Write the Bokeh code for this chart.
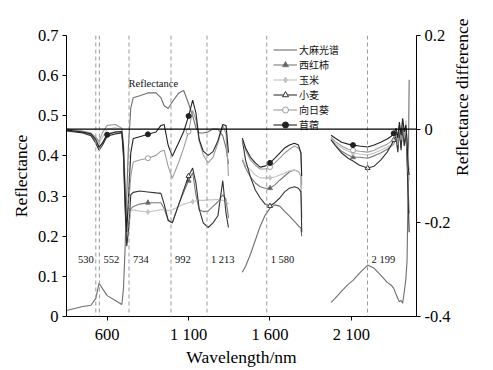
import numpy as np
from bokeh.plotting import figure
from bokeh.models import Range1d, LinearAxis, FixedTicker, Span, Legend, LegendItem, ColumnDataSource
from bokeh.embed import file_html
from bokeh.resources import INLINE
from bokeh.core.properties import value

# ---------------- data ----------------
# three wavelength segments (water absorption bands removed)
W1 = [350, 400, 450, 500, 530, 550, 570, 600, 650, 690, 700, 710, 720, 730, 745, 760, 800, 850, 900, 930,
      950, 975, 1000, 1040, 1070, 1100, 1125, 1145, 1165, 1190, 1220, 1250, 1280, 1310, 1330, 1345]
W2 = [1430, 1450, 1480, 1510, 1540, 1570, 1600, 1630, 1660, 1690, 1720, 1750, 1775, 1790, 1795]
W3 = [1975, 2000, 2040, 2080, 2110, 2150, 2200, 2240, 2280, 2320, 2345, 2360, 2375, 2385, 2395, 2405,
      2415, 2425, 2435, 2442, 2448, 2455]

# hemp reflectance (left axis)
HEMP_1 = [0.015, 0.02, 0.025, 0.028, 0.045, 0.083, 0.07, 0.052, 0.04, 0.03, 0.07, 0.17, 0.30, 0.42, 0.52, 0.545,
          0.55, 0.557, 0.557, 0.545, 0.525, 0.518, 0.535, 0.557, 0.563, 0.53, 0.50, 0.47, 0.457, 0.457,
          0.46, 0.467, 0.467, 0.45, 0.42, 0.38]
HEMP_2 = [0.11, 0.125, 0.155, 0.19, 0.225, 0.252, 0.27, 0.278, 0.275, 0.262, 0.25, 0.237, 0.226, 0.22, 0.20]
HEMP_3 = [0.035, 0.045, 0.063, 0.08, 0.09, 0.108, 0.128, 0.12, 0.103, 0.085, 0.078, 0.07, 0.055, 0.045,
          0.037, 0.04, 0.033, 0.062, 0.095, 0.14, 0.30, 0.59]

# reflectance differences (right axis)
TOMATO_1 = [-0.003, -0.005, -0.007, -0.012, -0.026, -0.04, -0.03, -0.01, -0.006, -0.006, -0.05, -0.16, -0.24,
            -0.22, -0.17, -0.165, -0.16, -0.157, -0.157, -0.157, -0.17, -0.195, -0.2, -0.16, -0.135, -0.11,
            -0.093, -0.14, -0.172, -0.176, -0.175, -0.165, -0.155, -0.14, -0.15, -0.19]
TOMATO_2 = [-0.066, -0.083, -0.102, -0.115, -0.123, -0.126, -0.126, -0.119, -0.109, -0.100, -0.091, -0.087,
            -0.091, -0.100, -0.19]
TOMATO_3 = [-0.021, -0.034, -0.047, -0.055, -0.060, -0.060, -0.062, -0.057, -0.051, -0.043, -0.036, -0.032,
            -0.019, -0.045, -0.002, -0.040, 0.002, -0.034, -0.013, -0.055, -0.119, -0.18]

MAIZE_1 = [-0.001, -0.003, -0.005, -0.01, -0.02, -0.03, -0.018, 0.0, 0.003, 0.0, -0.05, -0.16, -0.24, -0.21,
           -0.175, -0.172, -0.175, -0.177, -0.174, -0.172, -0.172, -0.174, -0.172, -0.165, -0.16, -0.157,
           -0.155, -0.153, -0.152, -0.152, -0.151, -0.151, -0.15, -0.152, -0.155, -0.16]
MAIZE_2 = [-0.062, -0.077, -0.087, -0.098, -0.104, -0.104, -0.104, -0.102, -0.098, -0.094, -0.089, -0.087,
           -0.091, -0.098, -0.15]
MAIZE_3 = [-0.019, -0.030, -0.040, -0.047, -0.051, -0.053, -0.055, -0.051, -0.045, -0.038, -0.034, -0.028,
           -0.013, -0.040, 0.002, -0.034, 0.009, -0.023, 0.019, -0.03, -0.045, -0.087]

WHEAT_1 = [-0.004, -0.006, -0.008, -0.014, -0.03, -0.045, -0.035, -0.015, -0.01, -0.008, -0.06, -0.17, -0.25,
           -0.22, -0.14, -0.135, -0.132, -0.134, -0.136, -0.137, -0.16, -0.195, -0.2, -0.16, -0.13, -0.1,
           -0.083, -0.115, -0.17, -0.2, -0.21, -0.2, -0.185, -0.11, -0.18, -0.21]
WHEAT_2 = [-0.023, -0.066, -0.102, -0.130, -0.147, -0.160, -0.164, -0.157, -0.147, -0.134, -0.126, -0.123,
           -0.126, -0.134, -0.22]
WHEAT_3 = [-0.023, -0.034, -0.051, -0.062, -0.068, -0.077, -0.083, -0.079, -0.066, -0.049, -0.034, -0.023,
           -0.015, -0.049, 0.002, -0.045, 0.006, -0.036, -0.006, -0.066, -0.140, -0.22]

SUNFLOWER_1 = [0.0, -0.002, -0.004, -0.008, -0.017, -0.026, -0.008, 0.008, 0.01, 0.002, -0.03, -0.11, -0.2,
               -0.17, -0.1, -0.07, -0.066, -0.062, -0.056, -0.047, -0.045, -0.08, -0.105, -0.07, -0.04,
               -0.005, 0.04, 0.02, -0.025, -0.055, -0.072, -0.06, -0.03, 0.008, -0.01, -0.1]
SUNFLOWER_2 = [-0.023, -0.045, -0.066, -0.077, -0.085, -0.085, -0.081, -0.072, -0.062, -0.051, -0.043, -0.036,
               -0.040, -0.049, -0.12]
SUNFLOWER_3 = [-0.017, -0.026, -0.036, -0.043, -0.045, -0.047, -0.049, -0.045, -0.038, -0.032, -0.026, -0.019,
               -0.006, -0.034, 0.009, -0.023, 0.019, -0.019, 0.002, -0.045, -0.087, -0.109]

ALFALFA_1 = [-0.002, -0.004, -0.006, -0.01, -0.022, -0.038, -0.03, -0.012, -0.006, -0.005, -0.04, -0.14,
             -0.22, -0.15, -0.05, -0.02, -0.016, -0.011, -0.006, 0.008, 0.01, -0.035, -0.058, -0.028, -0.005,
             0.028, 0.062, 0.035, -0.022, -0.047, -0.056, -0.048, -0.025, 0.01, 0.008, -0.05]
ALFALFA_2 = [-0.019, -0.040, -0.060, -0.072, -0.081, -0.079, -0.072, -0.062, -0.051, -0.040, -0.034, -0.030,
             -0.034, -0.051, -0.10]
ALFALFA_3 = [-0.013, -0.019, -0.028, -0.032, -0.034, -0.036, -0.038, -0.034, -0.028, -0.021, -0.015, -0.009,
             0.002, -0.019, 0.015, -0.013, 0.023, -0.006, 0.009, -0.023, -0.077, -0.098]

NAMES = ["大麻光谱", "西红柿", "玉米", "小麦", "向日葵", "苜蓿"]
MARK_WL = {"西红柿": [850, 1100, 1600, 2110], "玉米": [850, 1125, 1600, 2110],
           "小麦": [1100, 1600, 2200, 2360], "向日葵": [850, 1100, 1600, 2110],
           "苜蓿": [600, 850, 1100, 1600, 2110, 2360]}

REF_LINES = [530, 552, 734, 992, 1213, 1580, 2199]
REF_LABELS = ["530", "552", "734", "992", "1 213", "1 580", "2 199"]
INNER_LABEL = "Reflectance"
RIGHT_TITLE = "Reflectance difference"

X_TICKS = [600, 1100, 1600, 2100]
X_LABELS = ["600", "1 100", "1 600", "2 100"]
Y_TICKS = [0, 0.1, 0.2, 0.3, 0.4, 0.5, 0.6, 0.7]
Y2_TICKS = [-0.4, -0.2, 0, 0.2]

# ---------------- figure ----------------
SERIF = value("Liberation Serif")
nan = float("nan")


def join(a, b, c):
    return list(a) + [nan] + list(b) + [nan] + list(c)


WL = join(W1, W2, W3)

p = figure(width=493, height=370, output_backend="svg", toolbar_location=None,
           x_range=Range1d(350, 2500), y_range=Range1d(0, 0.7),
           min_border_left=66, min_border_right=77, min_border_top=35, min_border_bottom=54)
p.extra_y_ranges = {"diff": Range1d(-0.4, 0.2)}
p.outline_line_color = None
p.xgrid.visible = False
p.ygrid.visible = False
p.background_fill_color = "white"

# reference dashed lines
for wl in REF_LINES:
    p.add_layout(Span(location=wl, dimension="height", line_color="#9a9a9a", line_dash="4 3", line_width=1))

# zero line of the difference axis
p.add_layout(Span(location=0, dimension="width", y_range_name="diff", line_color="black", line_width=1.3))

styles = {
    "西红柿": dict(color="#7a7a7a", marker="triangle", fill="#606060", data=(TOMATO_1, TOMATO_2, TOMATO_3)),
    "玉米": dict(color="#c4c4c4", marker="diamond", fill="#c4c4c4", data=(MAIZE_1, MAIZE_2, MAIZE_3)),
    "小麦": dict(color="#333333", marker="triangle", fill="white", data=(WHEAT_1, WHEAT_2, WHEAT_3)),
    "向日葵": dict(color="#9c9c9c", marker="circle", fill="white", data=(SUNFLOWER_1, SUNFLOWER_2, SUNFLOWER_3)),
    "苜蓿": dict(color="#222222", marker="circle", fill="#222222", data=(ALFALFA_1, ALFALFA_2, ALFALFA_3)),
}

items = []
hemp = p.line(WL, join(HEMP_1, HEMP_2, HEMP_3), line_color="#6e6e6e", line_width=1.1)
items.append(LegendItem(label=NAMES[0], renderers=[hemp]))

for name in NAMES[1:]:
    st = styles[name]
    vals = join(*st["data"])
    r = p.line(WL, vals, line_color=st["color"], line_width=1.1, y_range_name="diff")
    mx = [w for w in MARK_WL[name]]
    my = [vals[WL.index(w)] for w in mx]
    m = p.scatter(mx, my, marker=st["marker"], size=5, line_color=st["color"], fill_color=st["fill"],
                  line_width=1, y_range_name="diff")
    items.append(LegendItem(label=name, renderers=[r, m]))

# reference-line labels
lab_src_l = ColumnDataSource(dict(x=REF_LINES[1:], y=[0.1425] * (len(REF_LINES) - 1), t=REF_LABELS[1:]))
p.text(x="x", y="y", text="t", source=lab_src_l, text_font=SERIF, text_font_size="10.5px",
       text_align="left", text_baseline="middle", x_offset=4, text_color="#111111")
lab_src_r = ColumnDataSource(dict(x=REF_LINES[:1], y=[0.1425], t=REF_LABELS[:1]))
p.text(x="x", y="y", text="t", source=lab_src_r, text_font=SERIF, text_font_size="10.5px",
       text_align="right", text_baseline="middle", x_offset=-2, text_color="#111111")
p.text(x=[731], y=[0.58], text=[INNER_LABEL], text_font=SERIF, text_font_size="10.5px",
       text_align="left", text_baseline="middle", text_color="#111111")

# axes
def style_axis(ax):
    ax.axis_line_color = "black"
    ax.major_tick_line_color = "black"
    ax.major_tick_in = 0
    ax.major_tick_out = 4
    ax.minor_tick_line_color = None
    ax.major_label_text_font = "Liberation Serif"
    ax.major_label_text_font_size = "16.5px"
    ax.major_label_text_color = "black"
    ax.axis_label_text_font = "Liberation Serif"
    ax.axis_label_text_font_size = "17.5px"
    ax.axis_label_text_font_style = "normal"
    ax.axis_label_text_color = "black"
    ax.major_label_standoff = 4
    ax.axis_label_standoff = 4


xa = p.xaxis[0]
xa.ticker = FixedTicker(ticks=X_TICKS)
xa.major_label_overrides = {t: l for t, l in zip(X_TICKS, X_LABELS)}
xa.axis_label = "Wavelength/nm"
style_axis(xa)
xa.axis_label_standoff = 0

ya = p.yaxis[0]
ya.ticker = FixedTicker(ticks=Y_TICKS)
ya.major_label_overrides = {t: ("0" if t == 0 else f"{t:.1f}") for t in Y_TICKS}
ya.axis_label = "Reflectance"
style_axis(ya)

ya2 = LinearAxis(y_range_name="diff", ticker=FixedTicker(ticks=Y2_TICKS))
ya2.major_label_overrides = {t: ("0" if t == 0 else f"{t:.1f}") for t in Y2_TICKS}
style_axis(ya2)
ya2.axis_label = RIGHT_TITLE
ya2.axis_label_standoff = 8
if "axis_label_orientation" in ya2.properties():
    # read bottom-to-top, as in the reference
    ya2.axis_label_orientation = np.pi / 2
p.add_layout(ya2, "right")

legend = Legend(items=items, location=(207, 184))
legend.border_line_color = None
legend.background_fill_alpha = 0
legend.label_text_font = "Noto Sans CJK SC"
legend.label_text_font_size = "10px"
legend.label_text_color = "#111111"
legend.glyph_width = 24
legend.glyph_height = 15
legend.label_height = 15
legend.spacing = 0
legend.padding = 4
legend.margin = 0
legend.label_standoff = 2
p.add_layout(legend)

open("out.html", "w").write(file_html(p, INLINE))
